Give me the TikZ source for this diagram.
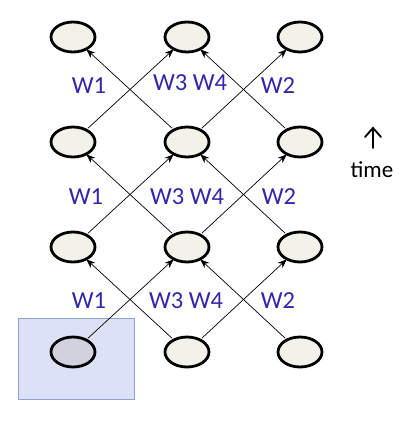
\documentclass[tikz,border=0pt]{standalone}
\usepackage{fontspec}
\setmainfont{Carlito}
\usetikzlibrary{arrows.meta,shapes.geometric}
\definecolor{nodefill}{RGB}{242,242,232}
\definecolor{inputfill}{RGB}{208,210,222}
\definecolor{boxfill}{RGB}{221,225,247}
\definecolor{boxline}{RGB}{143,163,207}
\definecolor{wblue}{RGB}{50,38,170}
\tikzset{
  unit/.style={ellipse, draw=black, line width=2.8pt, fill=nodefill, minimum width=44pt, minimum height=30pt, inner sep=0pt},
  inunit/.style={unit, fill=inputfill},
  conn/.style={line width=0.7pt, -{Stealth[length=9pt,width=7pt]}, shorten <=1pt, shorten >=-1pt},
  wlabel/.style={text=wblue, font=\fontsize{24.5}{27}\selectfont, inner sep=0pt},
  timelabel/.style={text=black, font=\fontsize{23}{26}\selectfont, inner sep=0pt},
  timearrow/.style={line width=1.9pt, line cap=round, line join=miter}
}
\begin{document}
\begin{tikzpicture}[x=1pt,y=-1pt]
\useasboundingbox (0,0) rectangle (416,421);
\node[draw=boxline, fill=boxfill, line width=0.8pt, minimum width=116pt, minimum height=81pt, inner sep=0pt] (box) at (76,358.5) {};
% rows: 1 top ... 4 bottom
\foreach \r/\y in {1/37,2/142,3/247} {
  \node[unit] (n\r1) at (73,\y) {};
  \node[unit] (n\r2) at (187,\y) {};
  \node[unit] (n\r3) at (300,\y) {};
}
\node[inunit] (n41) at (73,352) {};
\node[unit] (n42) at (187,352) {};
\node[unit] (n43) at (300,352) {};
\foreach \lo/\up in {4/3,3/2,2/1} {
  \draw[conn] (n\lo1) -- (n\up2);
  \draw[conn] (n\lo2) -- (n\up1);
  \draw[conn] (n\lo2) -- (n\up3);
  \draw[conn] (n\lo3) -- (n\up2);
}
\node[wlabel] (wa1) at (89,86) {W1};
\node[wlabel] (wb1) at (190,83) {W3 W4};
\node[wlabel] (wc1) at (278,86) {W2};
\node[wlabel] (wa2) at (86,197) {W1};
\node[wlabel] (wb2) at (187,197) {W3 W4};
\node[wlabel] (wc2) at (279,197) {W2};
\node[wlabel] (wa3) at (89,301) {W1};
\node[wlabel] (wb3) at (186,301) {W3 W4};
\node[wlabel] (wc3) at (278,301) {W2};
\coordinate (tb) at (373,148);
\coordinate (tt) at (373,128);
\coordinate (tl) at (365,137);
\coordinate (tr) at (381,137);
\draw[timearrow] (tb) -- (tt);
\draw[timearrow] (tl) -- (tt) -- (tr);
\node[timelabel] (time) at (372,170) {time};
\end{tikzpicture}
\end{document}
